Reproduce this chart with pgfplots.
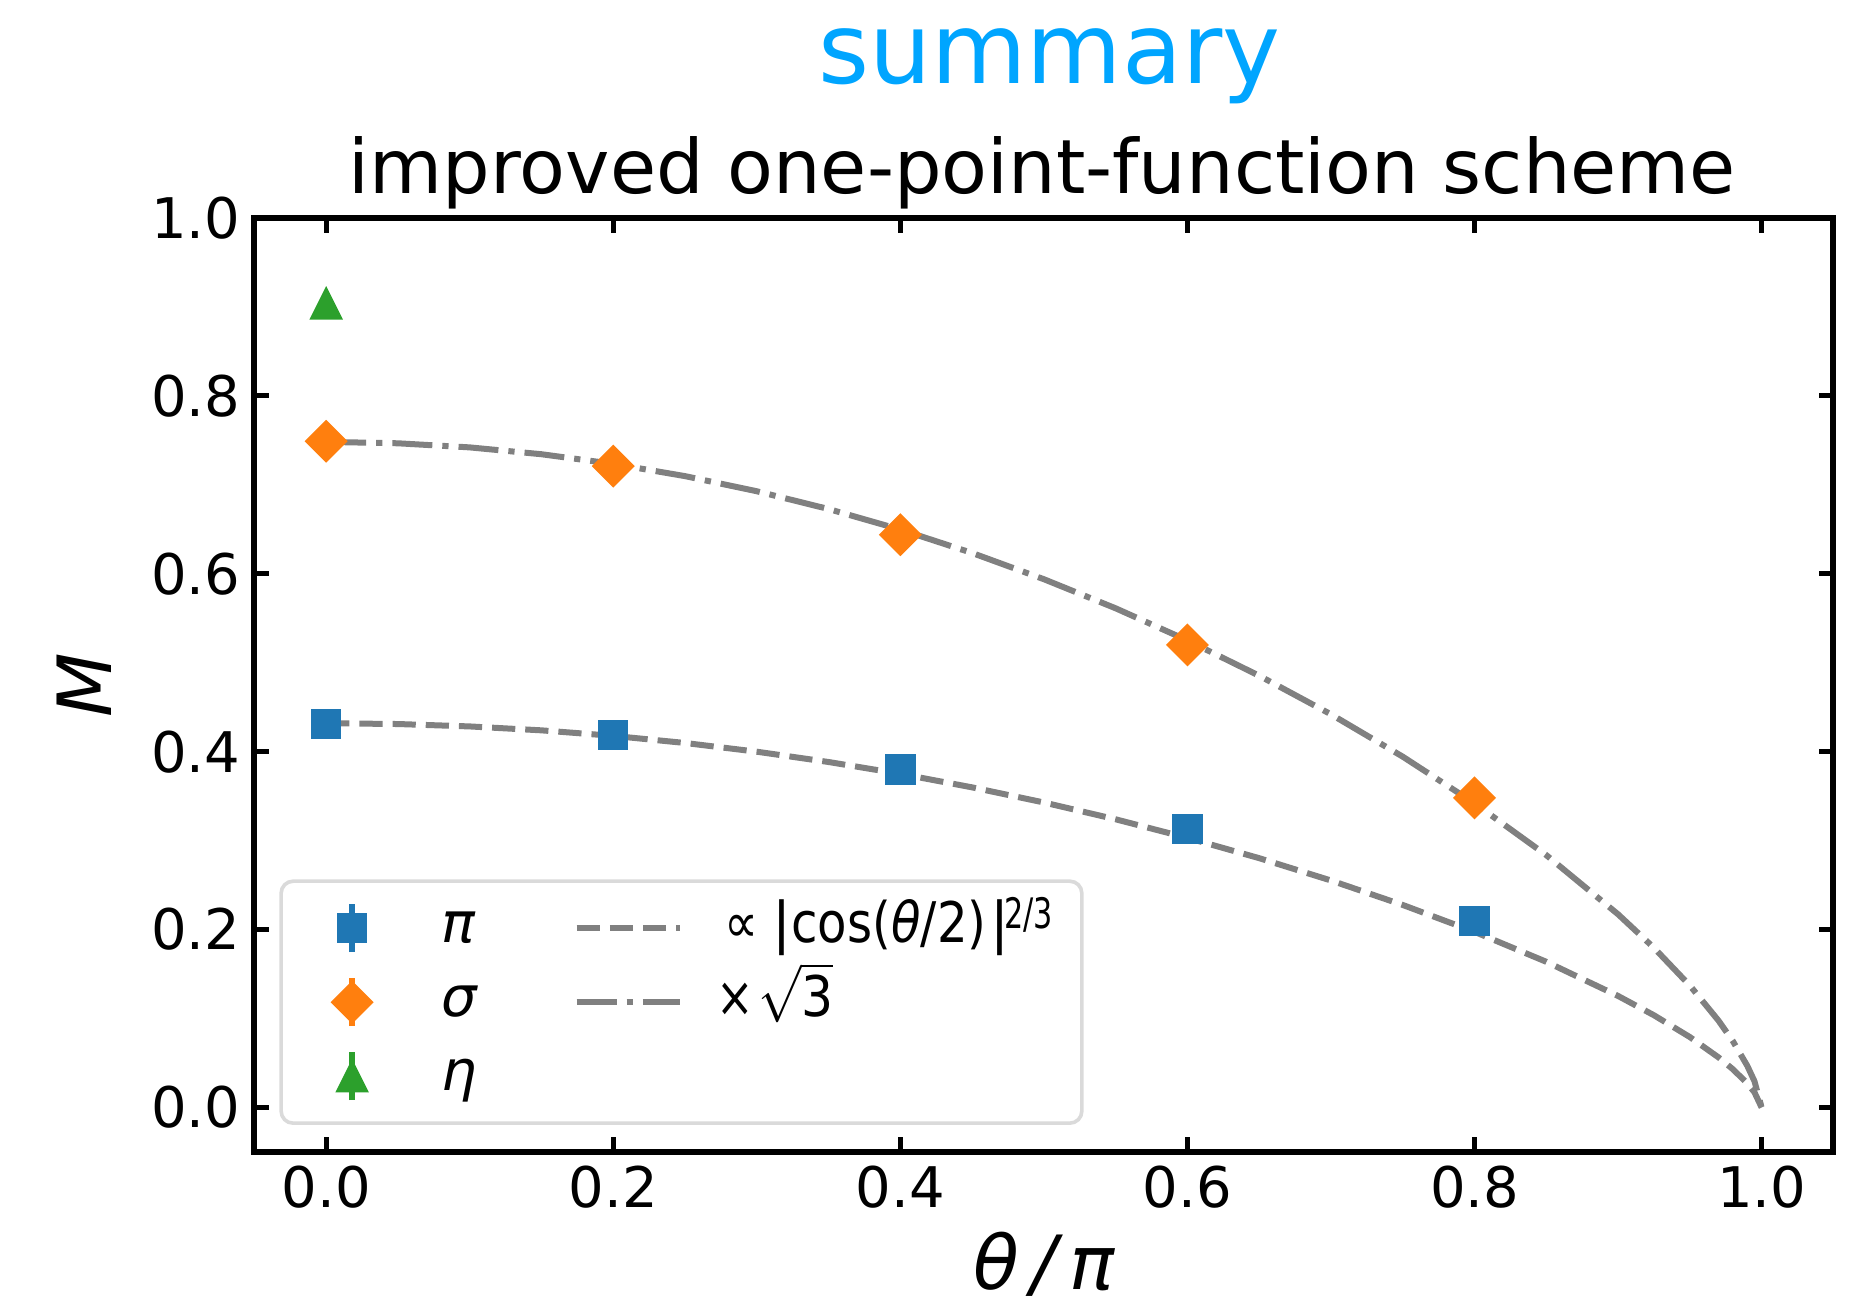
\documentclass[border=0pt]{standalone}
\usepackage{graphicx}
\usepackage{pgfplots}
\usepackage{pgfplotstable}
\pgfplotsset{compat=1.18}
\usepackage{fontspec}
\setmainfont{DejaVu Sans}

\definecolor{tabblue}{HTML}{1F77B4}
\definecolor{taborange}{HTML}{FF7F0E}
\definecolor{tabgreen}{HTML}{2CA02C}
\definecolor{curvegray}{HTML}{808080}
\definecolor{titleblue}{HTML}{00A5FF}
\definecolor{legendframe}{HTML}{DADADA}

% matplotlib-like '^' marker (width = height)
\pgfdeclareplotmark{mtri}{%
  \pgfpathmoveto{\pgfqpoint{0pt}{\pgfplotmarksize}}%
  \pgfpathlineto{\pgfqpoint{-\pgfplotmarksize}{-\pgfplotmarksize}}%
  \pgfpathlineto{\pgfqpoint{\pgfplotmarksize}{-\pgfplotmarksize}}%
  \pgfpathclose
  \pgfusepathqfillstroke
}

% measured points
\pgfplotstableread{
x    y
0.0  0.431
0.2  0.419
0.4  0.380
0.6  0.313
0.8  0.210
}\pidata
\pgfplotstableread{
x    y
0.0  0.749
0.2  0.721
0.4  0.644
0.6  0.520
0.8  0.348
}\sigmadata
\pgfplotstableread{
x    y
0.0  0.904
}\etadata
% guide curves (dashed, dash-dot = dashed x sqrt3)
\pgfplotstableread{
x      a       b
0.000  0.4320  0.7483
0.050  0.4311  0.7467
0.100  0.4284  0.7421
0.150  0.4240  0.7344
0.200  0.4178  0.7236
0.250  0.4098  0.7098
0.300  0.4000  0.6928
0.350  0.3884  0.6728
0.400  0.3751  0.6497
0.450  0.3599  0.6234
0.500  0.3429  0.5939
0.550  0.3240  0.5612
0.600  0.3031  0.5251
0.650  0.2803  0.4854
0.700  0.2552  0.4420
0.750  0.2277  0.3944
0.800  0.1975  0.3420
0.850  0.1638  0.2837
0.900  0.1254  0.2172
0.925  0.1037  0.1795
0.950  0.0792  0.1371
0.970  0.0563  0.0976
0.980  0.0430  0.0745
0.990  0.0271  0.0469
0.995  0.0171  0.0296
1.000  0.0000  0.0000
}\curves

\pgfplotsset{
  errlegend/.style={
    legend image code/.code={
      \path[draw=none, fill=none] (0pt,-9.25pt) rectangle (37.5pt,9.25pt);
      \draw[line width=1.5pt,#1] (15.25pt,-6pt) -- (15.25pt,6pt);
      \path[#1] plot coordinates {(15.25pt,0pt)};
    }
  },
  linelegend/.style={
    legend image code/.code={
      \path[draw=none, fill=none] (-25pt,-9.25pt) rectangle (35pt,9.25pt);
      \draw[#1] (0pt,0pt) -- (25.75pt,0pt);
    }
  },
}

\begin{document}
\begin{tikzpicture}
\path[use as bounding box] (-63.6pt,-37.75pt) rectangle (405.15pt,288pt);
\begin{axis}[
  at={(0pt,0pt)}, anchor=south west,
  scale only axis,
  width=394.75pt, height=233.5pt,
  xmin=-0.05, xmax=1.05,
  ymin=-0.05, ymax=1.0,
  xtick={0,0.2,0.4,0.6,0.8,1.0},
  ytick={0,0.2,0.4,0.6,0.8,1.0},
  minor tick num=0,
  tick align=inside,
  major tick length=3.65pt,
  every tick/.style={black, line width=1.25pt},
  axis line style={line width=1.5pt},
  /pgf/number format/assume math mode=true,
  xticklabel style={/pgf/number format/.cd, fixed, fixed zerofill, precision=1},
  yticklabel style={/pgf/number format/.cd, fixed, fixed zerofill, precision=1},
  tick label style={font=\fontsize{14}{16}\selectfont},
  legend columns=2,
  legend style={
    at={(0.0158,0.0289)}, anchor=south west,
    draw=legendframe, line width=0.9pt, rounded corners=3pt,
    fill=white, inner sep=2.5pt,
    column sep=0pt, row sep=0pt,
    font=\fontsize{14}{16}\selectfont,
    nodes={inner sep=0pt, text height=10pt, text depth=3pt},
    cells={anchor=west},
  },
]
\addplot[forget plot, curvegray, line width=1.5pt, dash pattern=on 5.8pt off 2.5pt] table[x=x, y=a] {\curves};
\addplot[forget plot, curvegray, line width=1.5pt, dash pattern=on 10pt off 2.5pt on 1.56pt off 2.5pt] table[x=x, y=b] {\curves};

\addplot[forget plot, only marks, mark=square*, mark size=3.6pt, color=tabblue,
  mark options={line width=0.4pt}] table {\pidata};
\addplot[forget plot, only marks, mark=square*, mark size=3.6pt, color=taborange,
  mark options={rotate=45, line width=0.4pt}] table {\sigmadata};
\addplot[forget plot, only marks, mark=mtri, mark size=3.875pt, color=tabgreen,
  mark options={line width=0.4pt}] table {\etadata};

\addlegendimage{errlegend={tabblue, mark=square*, mark size=3.6pt, mark options={sharp corners, solid, line width=0.4pt}}}
\addlegendentry{\itshape π}
\addlegendimage{linelegend={curvegray, line width=1.5pt, sharp corners, dash pattern=on 5.8pt off 2.5pt}}
\addlegendentry{\makebox[88.8pt][l]{\hspace{2pt}\scalebox{0.85}[1]{∝}\hspace{3.5pt}|\scalebox{0.86}[1]{cos(\textit{θ}/2)}\hspace{1.1pt}|\hspace{-1.3pt}\raisebox{3.5pt}{\scalebox{0.72}[1]{\fontsize{10.5}{11}\selectfont 2/3}}}}
\addlegendimage{errlegend={taborange, mark=square*, mark size=3.6pt, mark options={sharp corners, solid, rotate=45, line width=0.4pt}}}
\addlegendentry{\itshape σ}
\addlegendimage{linelegend={curvegray, line width=1.5pt, sharp corners, dash pattern=on 10pt off 2.5pt on 1.56pt off 2.5pt}}
\addlegendentry{\scalebox{0.8}[1]{×}\kern1pt\scalebox{0.9}[1]{$\sqrt{\mbox{3}}$}}
\addlegendimage{errlegend={tabgreen, mark=mtri, mark size=3.875pt, mark options={sharp corners, solid, line width=0.4pt}}}
\addlegendentry{\itshape η}
\end{axis}

\node[anchor=base, font=\fontsize{24.5}{28}\selectfont, text=titleblue, inner sep=0pt] at (198.75pt,267pt) {summary};
\node[anchor=base, font=\fontsize{18.75}{22}\selectfont, inner sep=0pt] at (197pt,239.5pt) {improved one-point-function scheme};
\node[anchor=base, font=\fontsize{18.7}{22}\selectfont, inner sep=0pt] at (197.4pt,-34.5pt) {\itshape θ\,/\,π};
\node[anchor=base, rotate=90, font=\fontsize{18.7}{22}\selectfont, inner sep=0pt] at (-35.75pt,116.75pt) {\itshape M};
\end{tikzpicture}
\end{document}
